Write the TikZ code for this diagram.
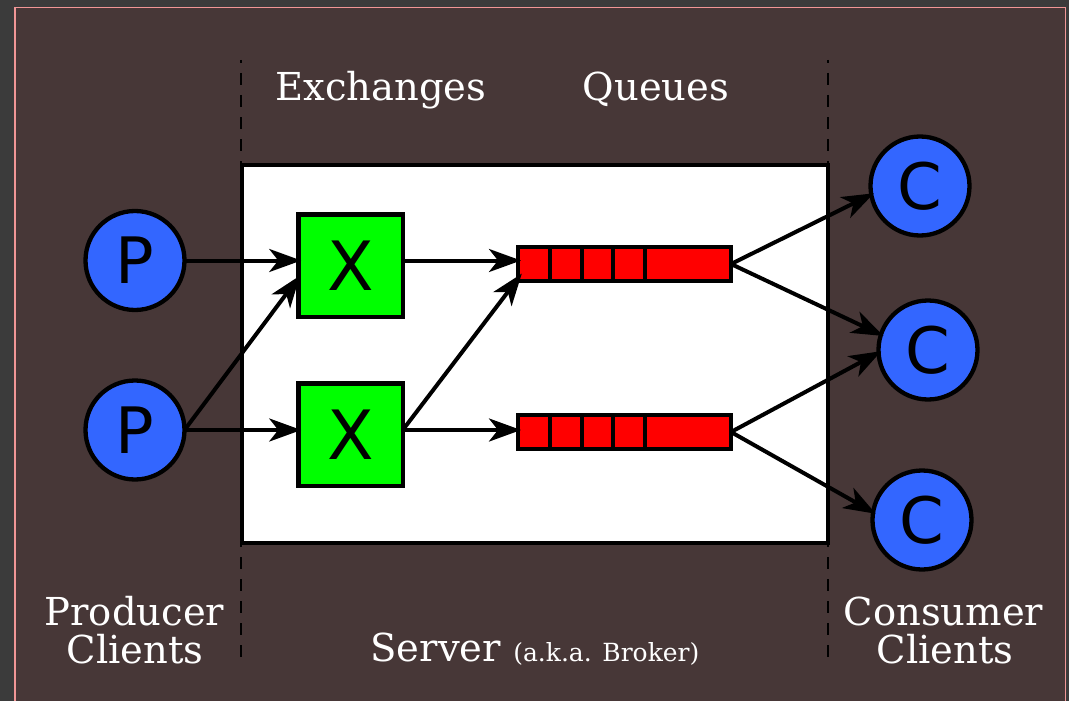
\documentclass[tikz,border=0pt]{standalone}
\usepackage{fontspec}
\setmainfont{DejaVu Serif}
\newfontfamily\letterfont{DejaVu Sans}
\usetikzlibrary{arrows.meta}
\definecolor{framegray}{RGB}{59,59,59}
\definecolor{bgbrown}{RGB}{71,55,55}
\definecolor{edgepink}{RGB}{240,150,150}
\definecolor{clientblue}{RGB}{51,102,255}
\definecolor{exgreen}{RGB}{0,255,0}
\definecolor{qred}{RGB}{255,0,0}
\begin{document}
\begin{tikzpicture}[x=1pt,y=-1pt,
  client/.style={circle, draw=black, line width=4.3pt, fill=clientblue,
    minimum size=99pt, inner sep=0pt, outer sep=0pt, text=black,
    font=\letterfont\fontsize{64}{64}\selectfont},
  exch/.style={rectangle, draw=black, line width=4.5pt, fill=exgreen,
    minimum width=104.5pt, minimum height=102.5pt, inner sep=0pt, outer sep=0pt,
    text=black, font=\letterfont\fontsize{68}{68}\selectfont},
  queuebox/.style={rectangle, draw=black, line width=4pt, fill=qred,
    minimum width=213pt, minimum height=34pt, inner sep=0pt, outer sep=0pt},
  divider/.style={line width=3.5pt, black},
  flow/.style={line width=4pt, black, shorten >=-3pt,
    -{Stealth[length=32pt,width=23pt,inset=9pt]}},
  zoneline/.style={line width=2pt, black, dash pattern=on 12pt off 10pt, dash phase=9pt},
  headtext/.style={text=white, anchor=base, inner sep=0pt,
    font=\fontsize{38.5}{39}\selectfont}
]
\useasboundingbox (0,0) rectangle (1069,701);

% window frame and canvas
\fill[framegray] (0,0) rectangle (1069,701);
\fill[bgbrown] (14,7) rectangle (1066,701);
\draw[edgepink, line width=1.5pt] (14.75,701) -- (14.75,7.75) -- (1065.25,7.75) -- (1065.25,701);

% zone separators
\draw[zoneline] (241,60) -- (241,662);
\draw[zoneline] (828,60) -- (828,662);

% server area
\draw[line width=4pt, fill=white] (241.5,165) rectangle (827.5,543);

% producers
\node[client] (P1) at (135,260.5) {P};
\node[client] (P2) at (135,430) {P};

% exchanges
\node[exch] (X1) at (350.5,265.5) {X};
\node[exch] (X2) at (350.5,434.5) {X};

% queues
\node[queuebox] (Q1) at (624.5,264) {};
\node[queuebox] (Q2) at (624.5,432) {};
\foreach \q in {Q1,Q2}
  \foreach \d in {32,64,95,127}
    \draw[divider] ([xshift=\d pt]\q.north west) -- ([xshift=\d pt]\q.south west);

% consumers
\node[client] (C1) at (920,186) {C};
\node[client] (C2) at (928,350) {C};
\node[client] (C3) at (922,520) {C};

% message flow
\draw[flow] (P1.east) -- (P1.east -| X1.west);
\draw[flow] (P2.east) -- ([yshift=-12.5pt]X1.west);
\draw[flow] (P2.east) -- (P2.east -| X2.west);
\draw[flow] (X1.east |- P1.east) -- (Q1.west |- P1.east);
\draw[flow] (X2.east |- P2.east) -- ([xshift=2pt,yshift=5pt]Q1.south west);
\draw[flow] (X2.east |- P2.east) -- (Q2.west |- P2.east);
\draw[flow] (Q1.east) -- (C1.190);
\draw[flow] (Q1.east) -- (C2.162);
\draw[flow] (Q2.east) -- (C2.183);
\draw[flow] (Q2.east) -- (C3.171);

% captions
\node[headtext] (exlbl) at (381,100) {Exchanges};
\node[headtext] (qlbl) at (656,100) {Queues};
\node[headtext] (prodA) at (134.5,625) {Producer};
\node[headtext] (prodB) at (135,663) {Clients};
\node[headtext] (consA) at (943.5,625) {Consumer};
\node[headtext] (consB) at (945,663) {Clients};
\node[headtext] (srv) at (535,661) {Server {\fontsize{25}{25}\selectfont (a.k.a. Broker)}};
\end{tikzpicture}
\end{document}
